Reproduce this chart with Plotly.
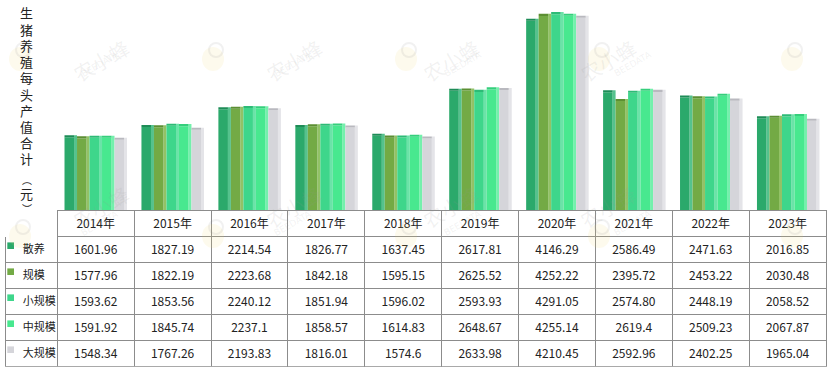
import plotly.graph_objects as go

# ---------------- data ----------------
years = ["2014年", "2015年", "2016年", "2017年", "2018年",
         "2019年", "2020年", "2021年", "2022年", "2023年"]
series_names = ["散养", "规模", "小规模", "中规模", "大规模"]
san_yang = ["1601.96", "1827.19", "2214.54", "1826.77", "1637.45",
            "2617.81", "4146.29", "2586.49", "2471.63", "2016.85"]
gui_mo = ["1577.96", "1822.19", "2223.68", "1842.18", "1595.15",
          "2625.52", "4252.22", "2395.72", "2453.22", "2030.48"]
xiao_gui_mo = ["1593.62", "1853.56", "2240.12", "1851.94", "1596.02",
               "2593.93", "4291.05", "2574.80", "2448.19", "2058.52"]
zhong_gui_mo = ["1591.92", "1845.74", "2237.1", "1858.57", "1614.83",
                "2648.67", "4255.14", "2619.4", "2509.23", "2067.87"]
da_gui_mo = ["1548.34", "1767.26", "2193.83", "1816.01", "1574.6",
             "2633.98", "4210.45", "2592.96", "2402.25", "1965.04"]
series_values = [san_yang, gui_mo, xiao_gui_mo, zhong_gui_mo, da_gui_mo]
y_title_chars = ["生", "猪", "养", "殖", "每", "头", "产", "值", "合", "计", "︵", "元", "︶"]

# ---------------- style ----------------
W, H = 832, 372
front_colors = ["#2BA96B", "#73AA45", "#3ED68B", "#48E88F", "#D5D5DA"]
side_colors = ["#55C28D", "#92C266", "#6BE3A8", "#74F0AC", "#E4E4E8"]
cap_colors = ["#1E8C57", "#5C8F33", "#2DBB76", "#35CF7C", "#B9B9BF"]
table_left, col0_w, col_w = 5.0, 52.3, 76.94
plot_left = table_left + col0_w
plot_right = plot_left + 10 * col_w
base_y = 210.7          # px from top (bar baseline == table top)
row_h = 26
table_bottom = base_y + 6 * row_h
y_max = 4600
cap_h = 45              # value units for the 3D top cap

bar_w = 0.1625
front_w = 0.124
side_w = bar_w - front_w
group_start = -bar_w * 5 / 2

fig = go.Figure()
xs = list(range(len(years)))

for i, (name, vals) in enumerate(zip(series_names, series_values)):
    v = [float(s) for s in vals]
    off = group_start + i * bar_w
    fig.add_trace(go.Bar(x=xs, y=[a + cap_h for a in v], offset=off + front_w, width=side_w,
                         marker=dict(color=side_colors[i], line=dict(width=0)),
                         hoverinfo="skip", showlegend=False))
    fig.add_trace(go.Bar(x=xs, y=v, offset=off, width=front_w, name=name,
                         marker=dict(color=front_colors[i], line=dict(width=0)),
                         hoverinfo="skip", showlegend=False))
    fig.add_trace(go.Bar(x=xs, y=[cap_h] * len(v), base=v, offset=off, width=front_w,
                         marker=dict(color=cap_colors[i], line=dict(width=0)),
                         hoverinfo="skip", showlegend=False))

# ---------------- table ----------------
first_col = ["\u00a0\u00a0\u00a0\u00a0" + n for n in series_names]
cols = [first_col] + [[series_values[s][j] for s in range(5)] for j in range(len(years))]
line_cols = ["white"] + ["#8C8C8C"] * len(years)
fig.add_trace(go.Table(
    domain=dict(x=[table_left / W, plot_right / W], y=[1 - (table_bottom + 1) / H, 1 - base_y / H]),
    columnwidth=[col0_w] + [col_w] * len(years),
    header=dict(values=[""] + years, height=row_h, align="center",
                line=dict(color=line_cols, width=1), fill=dict(color="white"),
                font=dict(family="Noto Sans CJK SC", size=12, color="#222")),
    cells=dict(values=cols, height=row_h, align=["left"] + ["center"] * len(years),
               line=dict(color="#8C8C8C", width=1), fill=dict(color="white"),
               font=dict(family="Noto Sans CJK SC", size=[11] + [12] * len(years), color="#222")),
))

# ---------------- annotations / legend keys ----------------
title_y = [14 + 16.2 * k for k in range(10)] + [179, 194, 209]
title_fonts = ["DejaVu Sans, Noto Sans CJK SC"] * 10 + ["Noto Sans CJK SC", "DejaVu Sans, Noto Sans CJK SC", "Noto Sans CJK SC"]
title_sizes = [13] * 10 + [10, 13, 10]
annotations = []
for ch, ty, ff, fs in zip(y_title_chars, title_y, title_fonts, title_sizes):
    annotations.append(dict(x=26.7 / W, y=1 - ty / H, xref="paper", yref="paper",
                            text=ch, showarrow=False,
                            font=dict(family=ff, size=fs, color="#222"),
                            xanchor="center", yanchor="middle"))
shapes = []
for k, c in enumerate(front_colors):
    top = base_y + row_h * (k + 1)
    shapes.append(dict(type="rect", xref="paper", yref="paper",
                       x0=7.3 / W, x1=14.0 / W,
                       y0=1 - (top + 12.3) / H, y1=1 - (top + 5.7) / H,
                       fillcolor=c, line=dict(width=0), layer="above"))

# faint watermark
for r in range(2):
    for c in range(5):
        cx = 65 + 193 * c
        cy = 30 + 177 * r
        if c < 4:
            annotations.append(dict(x=cx / W, y=1 - cy / H, xref="paper", yref="paper",
                                    text="农小蜂", showarrow=False, textangle=-30,
                                    font=dict(family="Noto Sans CJK SC", size=20,
                                              color="rgba(150,150,150,0.13)")))
            annotations.append(dict(x=(cx + 12) / W, y=1 - (cy + 16) / H, xref="paper", yref="paper",
                                    text="BEEDATA", showarrow=False, textangle=-30,
                                    font=dict(family="DejaVu Sans", size=9,
                                              color="rgba(150,150,150,0.13)")))
        lx, ly = cx - 45, cy + 25
        shapes.append(dict(type="circle", xref="paper", yref="paper",
                           x0=(lx - 11) / W, x1=(lx + 11) / W,
                           y0=1 - (ly + 16) / H, y1=1 - (ly - 8) / H,
                           fillcolor="rgba(240,215,110,0.12)", line=dict(width=0)))
        shapes.append(dict(type="circle", xref="paper", yref="paper",
                           x0=(lx - 4) / W, x1=(lx + 10) / W,
                           y0=1 - (ly + 2) / H, y1=1 - (ly - 12) / H,
                           fillcolor="rgba(255,255,255,0)",
                           line=dict(width=2, color="rgba(150,150,150,0.13)")))

fig.update_layout(
    width=W, height=H, autosize=False,
    margin=dict(l=0, r=0, t=0, b=0),
    paper_bgcolor="white", plot_bgcolor="white",
    barmode="overlay", showlegend=False,
    xaxis=dict(domain=[plot_left / W, plot_right / W], range=[-0.5, 9.5], visible=False, fixedrange=True),
    yaxis=dict(domain=[1 - base_y / H, 1], range=[0, y_max], visible=False, fixedrange=True),
    annotations=annotations, shapes=shapes,
)

fig.write_html("out.html", config={"displayModeBar": False},
               post_script="document.body.style.margin='0';document.body.style.overflow='hidden';")
